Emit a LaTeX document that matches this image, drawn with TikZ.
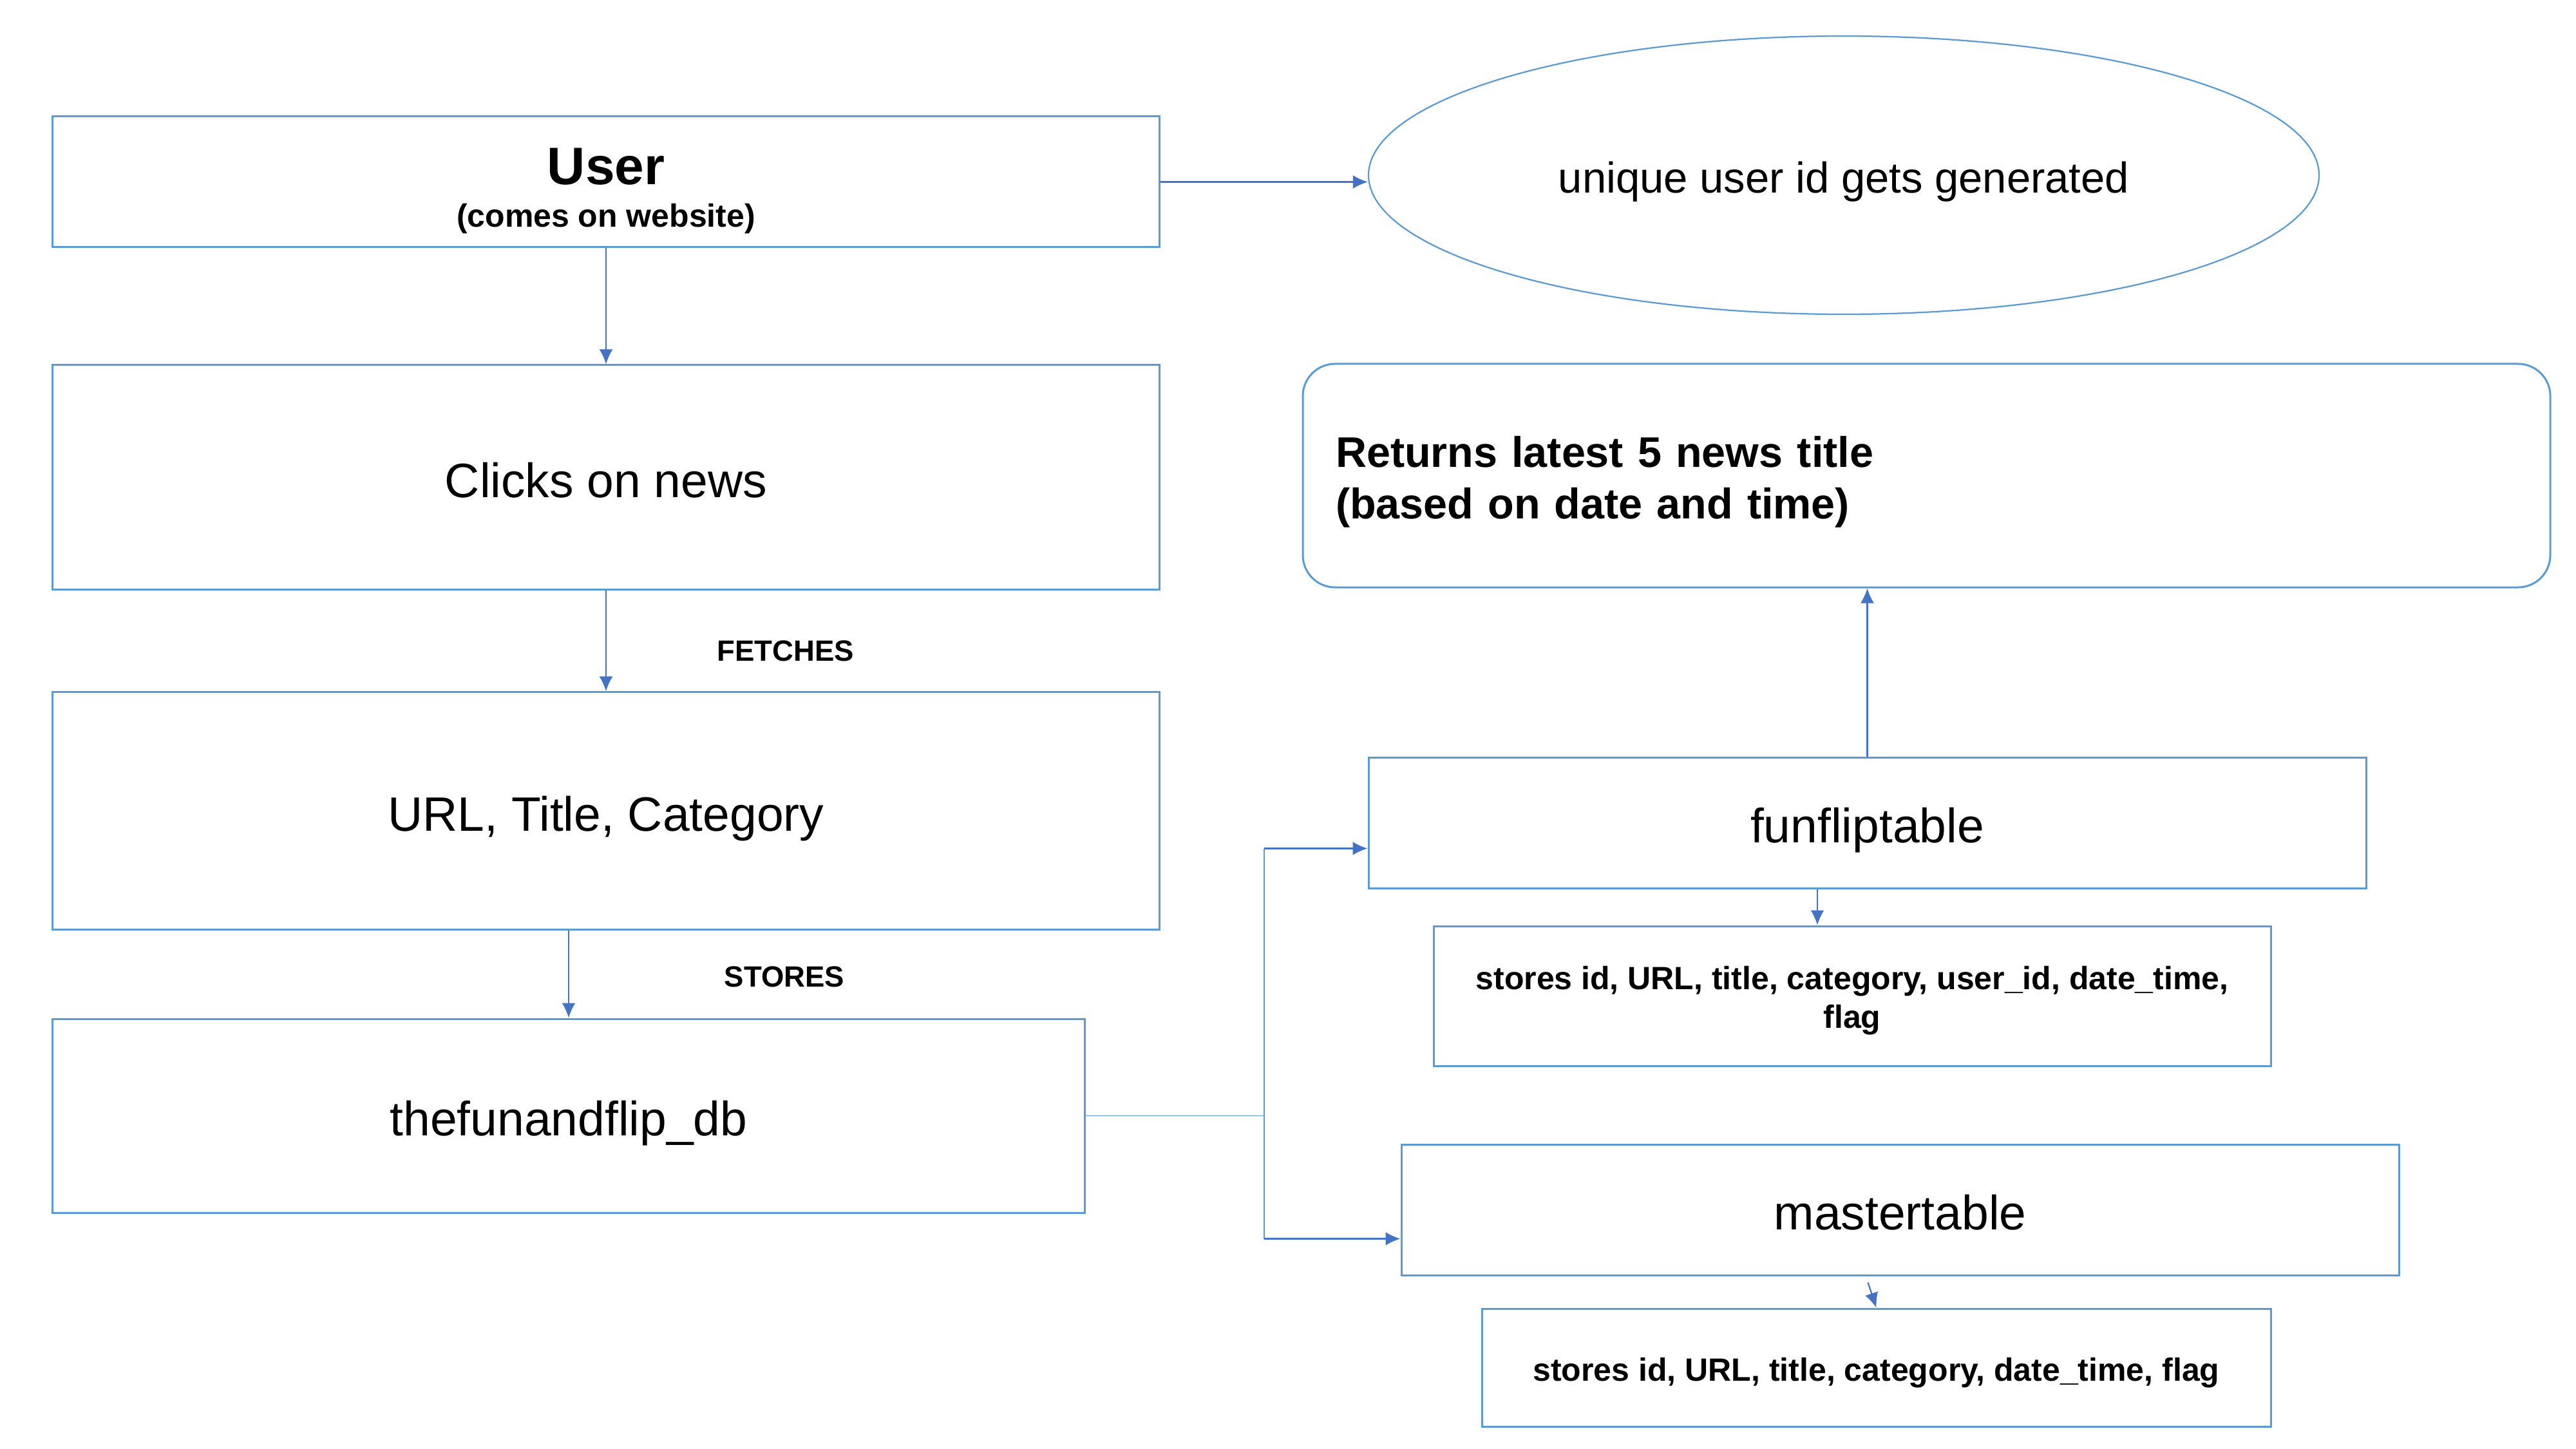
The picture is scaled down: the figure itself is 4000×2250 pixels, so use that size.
\documentclass[tikz,border=0pt]{standalone}
\usepackage{fontspec}
\setmainfont{Liberation Sans}
\usetikzlibrary{arrows.meta,shapes.geometric,calc}

\begin{document}
\begin{tikzpicture}[x=0.2pt,y=0.2pt,yscale=-1,xscale=1,
  box/.style={draw={rgb, 255:red, 91; green, 155; blue, 213 },line width=0.6pt,inner sep=0pt,align=center},
  bigtext/.style={font=\fontsize{15}{18}\selectfont,text height=12.5pt,text depth=0pt},
  smalltext/.style={font=\fontsize{10}{12}\selectfont\bfseries},
  lbl/.style={inner sep=0.75pt,font=\fontsize{9.1}{11}\selectfont\bfseries},
  link/.style={draw={rgb, 255:red, 68; green, 114; blue, 196 },line width=0.45pt,-{Latex[length=4.6pt,width=4.2pt]}},
  thinlink/.style={draw={rgb, 255:red, 91; green, 155; blue, 213 },line width=0.25pt}]
%set diagram left start at 0, and has height of 2250
\path (0,0) rectangle (4000,2250);

%Shape: Rectangle
\node [box, minimum width=343.6pt, minimum height=40.6pt, font=\fontsize{10}{13.2}\selectfont] (user) at (941,282.5) {{\fontsize{16.4}{16}\selectfont\bfseries\rule{0pt}{16.7pt}User}\\{\bfseries (comes on website)}};
%Shape: Rectangle
\node [box, bigtext, minimum width=343.6pt, minimum height=69.6pt] (clicks) at (941,741) {Clicks on news};
%Shape: Rectangle
\node [box, bigtext, minimum width=343.6pt, minimum height=73.6pt] (url) at (941,1259) {URL, Title, Category};
%Shape: Rectangle
\node [box, bigtext, minimum width=320.4pt, minimum height=60.2pt] (db) at (883,1732.5) {thefunandflip\_db};

%Shape: Ellipse
\node [box, ellipse, line width=0.45pt, minimum width=295.2pt, minimum height=86.4pt, font=\fontsize{13.4}{16}\selectfont, text height=11pt, text depth=0pt] (ell) at (2863,272) {unique user id gets generated};
%Rounded Rect
\node [box, rounded corners=10pt, align=left, text width=367pt, inner xsep=10.2pt, minimum height=69.4pt, font=\fontsize{13.3}{16}\selectfont\bfseries] (ret) at (2991.5,738.5) {\rule{0pt}{13.7pt}Returns latest 5 news title\\(based on date and time)};

%Shape: Rectangle
\node [box, bigtext, minimum width=309.8pt, minimum height=40.6pt] (fft) at (2899.5,1277.5) {funfliptable};
%Shape: Rectangle
\node [box, smalltext, minimum width=260pt, minimum height=43.4pt] (st1) at (2876,1546.5) {\rule{0pt}{10.3pt}stores id, URL, title, category, user\_id, date\_time,\\flag};
%Shape: Rectangle
\node [box, bigtext, minimum width=309.8pt, minimum height=40.6pt] (mt) at (2950.5,1878.5) {mastertable};
%Shape: Rectangle
\node [box, smalltext, minimum width=245pt, minimum height=36.6pt, text height=8.2pt, text depth=0pt] (st2) at (2913.5,2123.5) {stores id, URL, title, category, date\_time, flag};

% Text Node
\node [lbl] (fetches) at (1220,1011) {FETCHES};
% Text Node
\node [lbl] (stores) at (1218,1517) {STORES};

%Straight Lines
\draw [link] (user.east) -- (user.east -| ell.west);
\draw [link] (user.south) -- (clicks.north);
\draw [link] (clicks.south) -- (url.north);
\draw [link] (url.south -| db.north) -- (db.north);

%Connector
\coordinate (split) at (1963,1732.5);
\coordinate (fftin) at ($(fft.west)+(0,40)$);
\coordinate (mtin) at ($(mt.west)+(0,45)$);
\draw [thinlink] (db.east) -- (split) (split |- fftin) -- (split |- mtin);
\draw [link] (split |- fftin) -- (fftin);
\draw [link] (split |- mtin) -- (mtin);

%Straight Lines
\draw [link] (fft.north) -- (fft.north |- ret.south);
\coordinate (st1in) at ($(st1.north)+(-54,0)$);
\draw [link] (st1in |- fft.south) -- (st1in);
\draw [link] ($(mt.south)+(-50,10)$) -- (st2.north);

\end{tikzpicture}
\end{document}
